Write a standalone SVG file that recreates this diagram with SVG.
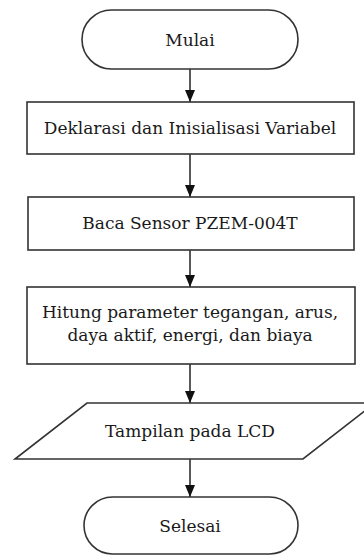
<svg xmlns="http://www.w3.org/2000/svg" width="364" height="556" viewBox="0 0 364 556">
<defs>
<style>
.s{fill:#fff;stroke:#333;stroke-width:1.6}
.t{font-family:"DejaVu Serif","Liberation Serif",serif;font-size:17px;fill:#1a1a1a;text-anchor:middle}
.c{stroke:#222;stroke-width:1.5;fill:none}
</style>
<marker id="a" viewBox="0 0 12 10" refX="12" refY="5" markerWidth="12" markerHeight="10" markerUnits="userSpaceOnUse" orient="auto">
<path d="M0,0 L12,5 L0,10 Z" fill="#111"/>
</marker>
</defs>
<rect width="364" height="556" fill="#fff"/>
<g id="connectors">
<line class="c" x1="190" y1="69" x2="190" y2="102" marker-end="url(#a)"/>
<line class="c" x1="190" y1="154" x2="190" y2="197" marker-end="url(#a)"/>
<line class="c" x1="190" y1="250" x2="190" y2="287" marker-end="url(#a)"/>
<line class="c" x1="190" y1="364" x2="190" y2="403" marker-end="url(#a)"/>
<line class="c" x1="190" y1="459" x2="190" y2="497" marker-end="url(#a)"/>
</g>
<g id="start">
<rect class="s" x="82" y="10" width="216" height="59" rx="29.5" ry="29.5"/>
<text class="t" x="190" y="46">Mulai</text>
</g>
<g id="init">
<rect class="s" x="27" y="102" width="327" height="52"/>
<text class="t" x="190" y="134">Deklarasi dan Inisialisasi Variabel</text>
</g>
<g id="read">
<rect class="s" x="28" y="197" width="326" height="53"/>
<text class="t" x="190" y="229">Baca Sensor PZEM-004T</text>
</g>
<g id="calc">
<rect class="s" x="27" y="287" width="328" height="77"/>
<text class="t" x="190" y="318">Hitung parameter tegangan, arus,</text>
<text class="t" x="190" y="341">daya aktif, energi, dan biaya</text>
</g>
<g id="display">
<polygon class="s" points="87,403 375,403 303,459 15,459"/>
<text class="t" x="190" y="437">Tampilan pada LCD</text>
</g>
<g id="end">
<rect class="s" x="84" y="497" width="214" height="57" rx="28.5" ry="28.5"/>
<text class="t" x="190" y="532">Selesai</text>
</g>
</svg>
